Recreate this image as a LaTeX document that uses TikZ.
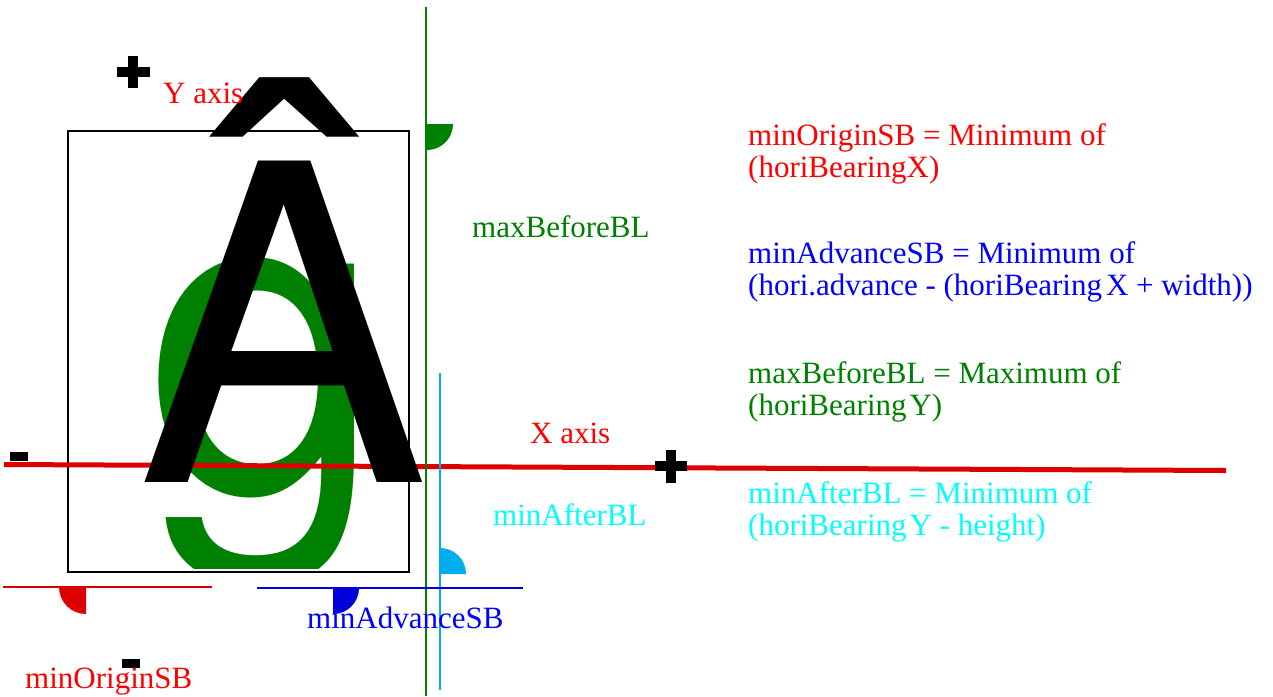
\documentclass[tikz,border=0pt]{standalone}
\usepackage{fontspec}
\setmainfont{Liberation Serif}
\newfontfamily\glyphfont{TeX Gyre Heros}
\usepackage{graphicx}
\definecolor{txtred}{HTML}{FF0000}
\definecolor{linered}{HTML}{DD0000}
\definecolor{txtblue}{HTML}{0000FF}
\definecolor{lineblue}{HTML}{0000DD}
\definecolor{grn}{HTML}{008000}
\definecolor{txtcyan}{HTML}{00FFFF}
\definecolor{linecyan}{HTML}{00AEEF}
\tikzset{
  lbl/.style={anchor=base west, inner sep=0pt, font=\fontsize{31}{32}\selectfont},
}
\begin{document}
\begin{tikzpicture}[x=1pt,y=-1pt]
\useasboundingbox (0,0) rectangle (1273,696);
% glyph box
\draw[line width=2pt, black] (68,131) rectangle (409,572);
% green g, clipped at bottom
\begin{scope}
\clip (0,0) rectangle (1273,568);
\node[anchor=base west, inner sep=0pt, text=grn] (gg) at (146,491) {\scalebox{0.98}[1]{\fontsize{434}{434}\glyphfont g}};
\end{scope}
% X axis
\coordinate (xa1) at (4,464.5);
\coordinate (xa2) at (1226,470.5);
\draw[linered, line width=5pt] (xa1) -- (xa2);
% vertical lines
\coordinate (gv1) at (426,7);
\coordinate (gv2) at (426,696);
\draw[grn, line width=2pt] (gv1) -- (gv2);
\coordinate (cv1) at (440,373);
\coordinate (cv2) at (440,690);
\draw[linecyan, line width=2pt] (cv1) -- (cv2);
% big A circumflex
\node[anchor=base, inner sep=0pt] (aa) at (283.5,482) {\scalebox{0.99}[1]{\fontsize{441}{441}\glyphfont Â}};
% bottom lines
\coordinate (rl1) at (3,587);
\coordinate (rl2) at (212,587);
\draw[linered, line width=2pt] (rl1) -- (rl2);
\coordinate (bl1) at (257,588);
\coordinate (bl2) at (523,588);
\draw[lineblue, line width=2pt] (bl1) -- (bl2);
% quarter disks
\fill[linered] (86,587) -- (59,587) .. controls (59,601.9) and (71.1,614) .. (86,614) -- cycle;
\fill[lineblue] (333,588) -- (359,588) .. controls (359,602.4) and (347.4,614) .. (333,614) -- cycle;
\fill[linecyan] (440,574) -- (466,574) .. controls (466,559.6) and (454.4,548) .. (440,548) -- cycle;
\fill[grn] (427,124) -- (453,124) .. controls (453,138.4) and (441.4,150) .. (427,150) -- cycle;
% plus and minus signs
\fill[black] (117,67) rectangle (150,77);
\fill[black] (128,56) rectangle (138,88);
\fill[black] (655,461) rectangle (687,471);
\fill[black] (666,450) rectangle (676,483);
\fill[black] (10,452) rectangle (28,461);
\fill[black] (122,659) rectangle (140,668);
% labels
\node[lbl, text=txtred] (yaxis) at (163,103) {Y axis};
\node[lbl, text=txtred] (xaxis) at (530,443) {X axis};
\node[lbl, text=grn] (mbbl) at (472,237) {maxBeforeBL};
\node[lbl, text=txtcyan] (mabl) at (493,525) {minAfterBL};
\node[lbl, text=txtblue] (masb) at (307,628) {minAdvanceSB};
\node[lbl, text=txtred] (mosb) at (25,688) {minOriginSB};
% definitions
\node[lbl, text=txtred] (d1a) at (748,145) {minOriginSB = Minimum of};
\node[lbl, text=txtred] (d1b) at (748,177) {(horiBearingX)};
\node[lbl, text=txtblue] (d2a) at (748,263) {minAdvanceSB = Minimum of};
\node[lbl, text=txtblue] (d2b) at (748,295) {(hori.advance - (horiBearing\kern4pt X + width))};
\node[lbl, text=grn] (d3a) at (748,383) {maxBeforeBL = Maximum of};
\node[lbl, text=grn] (d3b) at (748,415) {(horiBearing\kern3pt Y)};
\node[lbl, text=txtcyan] (d4a) at (748,503) {minAfterBL = Minimum of};
\node[lbl, text=txtcyan] (d4b) at (748,535) {(horiBearing\kern3pt Y - height)};
\end{tikzpicture}
\end{document}
